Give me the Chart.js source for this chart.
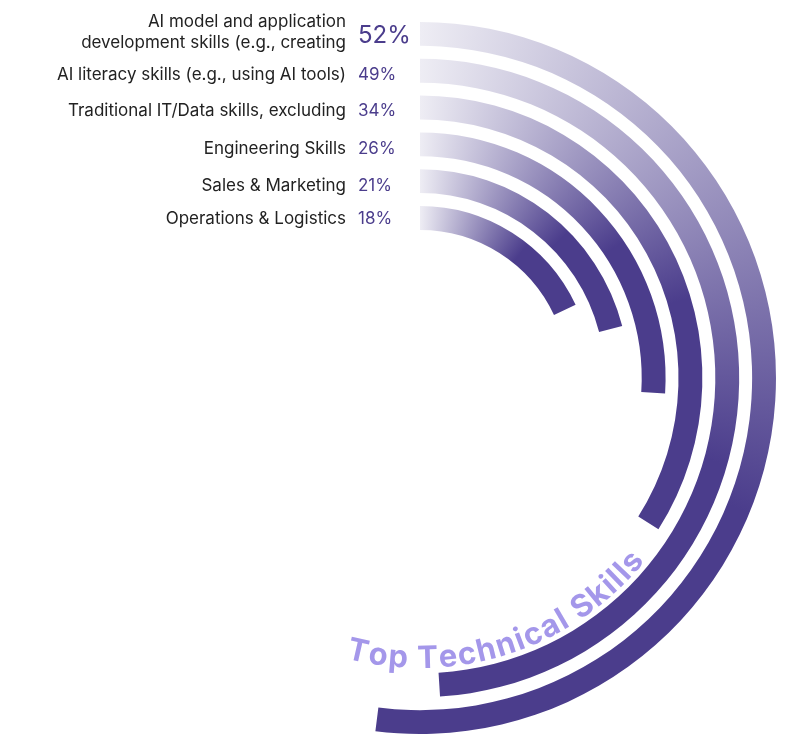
<!DOCTYPE html>
<html>
<head>
<meta charset="utf-8">
<script src="https://cdn.jsdelivr.net/npm/chart.js@4"></script>
<style>
  body { margin: 0; background: #fff; font-family: Inter, sans-serif; }
  #wrap { position: relative; width: 794px; height: 750px; }
  #chartBox { position: absolute; left: 64px; top: 22px; width: 712px; height: 712px; }
  .lbl { position: absolute; right: 448px; text-align: right; color: #222; font-size: 17px; line-height: 21px; }
  .pct { position: absolute; left: 358px; color: #4b3d8c; font-size: 17px; line-height: 21px; }
</style>
</head>
<body>
<div id="wrap">
  <div id="chartBox"><canvas id="skillsChart"></canvas></div>
  <div id="labels"></div>
</div>
<script>
// Data
const categories = [
  'AI model and application<br>development skills (e.g., creating',
  'AI literacy skills (e.g., using AI tools)',
  'Traditional IT/Data skills, excluding',
  'Engineering Skills',
  'Sales & Marketing',
  'Operations & Logistics'
];
const values = [52, 49, 34, 26, 21, 18];
const labelTops = [11, 64, 100, 138, 175, 208];
const title = 'Top Technical Skills';

// HTML labels
const labelsEl = document.getElementById('labels');
categories.forEach((cat, i) => {
  const l = document.createElement('div');
  l.className = 'lbl';
  l.style.top = labelTops[i] + 'px';
  l.innerHTML = cat;
  labelsEl.appendChild(l);
  const p = document.createElement('div');
  p.className = 'pct';
  p.textContent = values[i] + '%';
  if (i === 0) { p.style.fontSize = '24px'; p.style.top = '24px'; }
  else p.style.top = labelTops[i] + 'px';
  labelsEl.appendChild(p);
});

function arcGradient(context, v) {
  const chart = context.chart;
  const area = chart.chartArea;
  if (!area) return '#4b3d8c';
  const cx = (area.left + area.right) / 2;
  const cy = (area.top + area.bottom) / 2;
  const g = chart.ctx.createConicGradient(-Math.PI / 2, cx, cy);
  g.addColorStop(0, '#eeedf4');
  g.addColorStop(v / 100 * 0.6, '#4b3d8c');
  g.addColorStop(1, '#4b3d8c');
  return g;
}

// Build ring + spacer datasets
const datasets = [];
values.forEach((v, i) => {
  datasets.push({
    data: [v, 100 - v],
    backgroundColor: ctx => ctx.dataIndex === 0 ? arcGradient(ctx, v) : 'rgba(0,0,0,0)',
    borderWidth: 0,
    weight: 24
  });
  if (i < values.length - 1) {
    datasets.push({ data: [100], backgroundColor: 'rgba(0,0,0,0)', borderWidth: 0, weight: 13 });
  }
});

// Curved title plugin
const curvedTitle = {
  id: 'curvedTitle',
  afterDraw(chart) {
    const ctx = chart.ctx;
    const a = chart.chartArea;
    const cx = (a.left + a.right) / 2, cy = (a.top + a.bottom) / 2;
    const r = 290;
    ctx.save();
    ctx.font = 'bold 31px Inter, sans-serif';
    ctx.fillStyle = '#a497ea';
    ctx.textAlign = 'center';
    ctx.textBaseline = 'alphabetic';
    const spacing = 1.5;
    const widths = [...title].map(c => ctx.measureText(c).width + spacing);
    const total = widths.reduce((s, w) => s + w, 0);
    let theta = (72 * Math.PI / 180) + total / r / 2;
    [...title].forEach((c, i) => {
      const half = widths[i] / 2 / r;
      theta -= half;
      ctx.save();
      ctx.translate(cx + r * Math.cos(theta), cy + r * Math.sin(theta));
      ctx.rotate(theta - Math.PI / 2);
      ctx.fillText(c, 0, 0);
      ctx.restore();
      theta -= half;
    });
    ctx.restore();
  }
};

new Chart(document.getElementById('skillsChart'), {
  type: 'doughnut',
  data: { labels: ['value', 'rest'], datasets },
  options: {
    responsive: true,
    maintainAspectRatio: false,
    animation: false,
    cutout: '41.6%',
    events: [],
    layout: { padding: 0 },
    plugins: { legend: { display: false }, tooltip: { enabled: false } }
  },
  plugins: [curvedTitle]
});
</script>
</body>
</html>
